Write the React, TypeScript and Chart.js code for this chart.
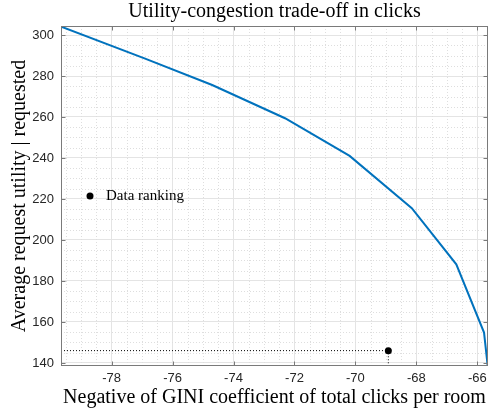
import React, { useEffect, useRef } from "react";
import { Chart, registerables } from "chart.js";

Chart.register(...registerables);

// ---- data ----
const giniValues = [-79.64, -76.9, -74.7, -72.31, -70.19, -68.15, -66.69, -65.78, -65.66];
const utilityValues = [304.0, 288.5, 275.6, 259.4, 241.0, 215.5, 188.1, 154.8, 138.5];
const rankingGini = [-68.92];
const rankingUtility = [146];
const xTicks = [-78, -76, -74, -72, -70, -68, -66];
const yTicks = [140, 160, 180, 200, 220, 240, 260, 280, 300];
const xRange = [-79.66, -65.65];
const yRange = [138.5, 304.4];
const xMinorStep = 0.5;
const yMinorStep = 5;

const titleText = "Utility-congestion trade-off in clicks";
const xTitle = "Negative of GINI coefficient of total clicks per room";
const yTitle = "Average request utility | requested";
const legendLabel = "Data ranking";

const SERIF = '"Liberation Serif", "Times New Roman", serif';
const SANS = '"Liberation Sans", Arial, Helvetica, sans-serif';

const boxPlugin = {
  id: "matlabBox",
  beforeDatasetsDraw(chart: any) {
    const { ctx, chartArea: a, scales } = chart;
    const x = scales.x;
    const y = scales.y;
    ctx.save();
    ctx.strokeStyle = "#dedede";
    ctx.lineWidth = 1;
    ctx.setLineDash([1, 2]);
    const kx0 = Math.ceil(xRange[0] / xMinorStep);
    const kx1 = Math.floor(xRange[1] / xMinorStep);
    for (let k = kx0; k <= kx1; k++) {
      const v = k * xMinorStep;
      if (xTicks.some((t) => Math.abs(t - v) < 1e-6)) continue;
      const px = Math.round(x.getPixelForValue(v)) + 0.5;
      ctx.beginPath();
      ctx.moveTo(px, a.top);
      ctx.lineTo(px, a.bottom);
      ctx.stroke();
    }
    const ky0 = Math.ceil(yRange[0] / yMinorStep);
    const ky1 = Math.floor(yRange[1] / yMinorStep);
    for (let k = ky0; k <= ky1; k++) {
      const v = k * yMinorStep;
      if (yTicks.some((t) => Math.abs(t - v) < 1e-6)) continue;
      const py = Math.round(y.getPixelForValue(v)) + 0.5;
      ctx.beginPath();
      ctx.moveTo(a.left, py);
      ctx.lineTo(a.right, py);
      ctx.stroke();
    }
    ctx.restore();
  },
  afterDraw(chart: any) {
    const { ctx, chartArea: a, scales } = chart;
    const x = scales.x;
    const y = scales.y;
    ctx.save();
    ctx.setLineDash([]);
    ctx.strokeStyle = "#7a7a7a";
    ctx.lineWidth = 1;
    const L = Math.round(a.left) + 0.5;
    const R = Math.round(a.right) - 0.5;
    const T = Math.round(a.top) + 0.5;
    const B = Math.round(a.bottom) - 0.5;
    ctx.strokeRect(L, T, R - L, B - T);
    const tl = 4;
    ctx.beginPath();
    xTicks.forEach((v) => {
      const px = Math.round(x.getPixelForValue(v)) + 0.5;
      ctx.moveTo(px, B);
      ctx.lineTo(px, B - tl);
      ctx.moveTo(px, T);
      ctx.lineTo(px, T + tl);
    });
    yTicks.forEach((v) => {
      const py = Math.round(y.getPixelForValue(v)) + 0.5;
      ctx.moveTo(L, py);
      ctx.lineTo(L + tl, py);
      ctx.moveTo(R, py);
      ctx.lineTo(R - tl, py);
    });
    ctx.stroke();

    // legend (inside axes, no frame)
    const lx = a.left + 29;
    const ly = a.top + 170;
    ctx.fillStyle = "#000";
    ctx.beginPath();
    ctx.arc(lx, ly, 3.5, 0, Math.PI * 2);
    ctx.fill();
    ctx.font = `15px ${SERIF}`;
    ctx.textBaseline = "middle";
    ctx.textAlign = "left";
    ctx.fillText(legendLabel, lx + 16, ly + 0.5);
    ctx.restore();
  },
};

export default function App() {
  const canvasRef = useRef<HTMLCanvasElement | null>(null);

  useEffect(() => {
    const canvas = canvasRef.current;
    if (!canvas) return;
    const linePoints = giniValues.map((g, i) => ({ x: g, y: utilityValues[i] }));
    const guidePoints = [
      { x: xRange[0], y: rankingUtility[0] },
      { x: rankingGini[0], y: rankingUtility[0] },
      { x: rankingGini[0], y: yRange[0] },
    ];
    const rankPoints = rankingGini.map((g, i) => ({ x: g, y: rankingUtility[i] }));

    const chart = new Chart(canvas, {
      type: "scatter",
      data: {
        datasets: [
          {
            label: "Trade-off",
            data: linePoints,
            showLine: true,
            borderColor: "#0072BD",
            backgroundColor: "#0072BD",
            borderWidth: 2,
            pointRadius: 0,
            tension: 0,
          },
          {
            label: "guide",
            data: guidePoints,
            showLine: true,
            borderColor: "#000",
            borderWidth: 1,
            borderDash: [1, 2],
            pointRadius: 0,
          },
          {
            label: legendLabel,
            data: rankPoints,
            showLine: false,
            pointRadius: 3.5,
            pointBackgroundColor: "#000",
            pointBorderColor: "#000",
            pointBorderWidth: 0,
          },
        ],
      },
      options: {
        responsive: false,
        animation: false,
        layout: { padding: { left: 0, right: 1, top: 0, bottom: 0 } },
        plugins: {
          legend: { display: false },
          tooltip: { enabled: false },
          title: {
            display: true,
            fullSize: false,
            text: titleText,
            color: "#000",
            font: { family: SERIF, size: 20, weight: "normal" },
            padding: { top: 0, bottom: 2 },
          },
        },
        scales: {
          x: {
            type: "linear",
            min: xRange[0],
            max: xRange[1],
            afterBuildTicks: (s: any) => {
              s.ticks = xTicks.map((v) => ({ value: v }));
            },
            afterFit: (s: any) => {
              s.height = 45;
            },
            border: { display: false },
            grid: { color: "#e4e4e4", lineWidth: 1, drawTicks: false },
            ticks: {
              color: "#262626",
              font: { family: SANS, size: 13 },
              padding: 5,
              maxRotation: 0,
              autoSkip: false,
              callback: (v: any) => String(v),
            },
            title: {
              display: true,
              text: xTitle,
              color: "#000",
              font: { family: SERIF, size: 20, weight: "normal" },
              padding: { top: 0, bottom: 1 },
            },
          },
          y: {
            type: "linear",
            min: yRange[0],
            max: yRange[1],
            afterBuildTicks: (s: any) => {
              s.ticks = yTicks.map((v) => ({ value: v }));
            },
            afterFit: (s: any) => {
              s.width = 61;
            },
            border: { display: false },
            grid: { color: "#e4e4e4", lineWidth: 1, drawTicks: false },
            ticks: {
              color: "#262626",
              font: { family: SANS, size: 13 },
              padding: 7,
              autoSkip: false,
              callback: (v: any) => String(v),
            },
            title: {
              display: true,
              text: yTitle,
              color: "#000",
              font: { family: SERIF, size: 20, weight: "normal" },
              padding: { top: 8, bottom: 0 },
            },
          },
        },
      },
      plugins: [boxPlugin],
    } as any);

    return () => chart.destroy();
  }, []);

  return (
    <div style={{ position: "absolute", left: 0, top: 0, width: 492, height: 411, background: "#fff" }}>
      <canvas ref={canvasRef} width={492} height={411} style={{ display: "block" }} />
    </div>
  );
}
